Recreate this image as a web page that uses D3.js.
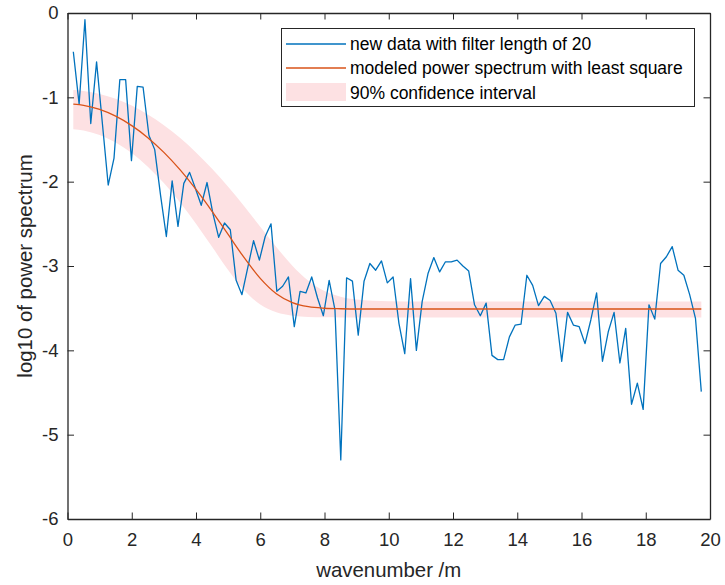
<!DOCTYPE html>
<html><head><meta charset="utf-8">
<script src="https://cdn.jsdelivr.net/npm/d3@7"></script>
<style>body{margin:0;background:#fff}svg{display:block;font-family:"Liberation Sans",Arial,sans-serif}</style>
</head><body><svg id="c" width="725" height="585"></svg>
<script>
// measured data: log10 power spectrum, wavenumber step ~0.181 /m starting at 0.181
const kStep = 0.181;
const powerData = [-0.46,-1.08,-0.08,-1.31,-0.58,-1.31,-2.04,-1.72,-0.79,-0.79,
 -1.75,-0.87,-0.88,-1.45,-1.62,-2.16,-2.65,-1.99,-2.53,-2.02,
 -1.89,-2.08,-2.28,-2.01,-2.375,-2.66,-2.49,-2.57,-3.17,-3.34,
 -3.02,-2.70,-2.93,-2.65,-2.50,-3.30,-3.24,-3.13,-3.72,-3.30,
 -3.32,-3.13,-3.38,-3.59,-3.17,-3.52,-5.30,-3.14,-3.18,-3.82,
 -3.18,-2.97,-3.05,-2.94,-3.20,-3.13,-3.68,-4.04,-3.15,-4.00,
 -3.42,-3.09,-2.90,-3.07,-2.95,-2.95,-2.93,-3.00,-3.06,-3.46,
 -3.59,-3.44,-4.06,-4.11,-4.11,-3.84,-3.70,-3.69,-3.11,-3.23,
 -3.47,-3.36,-3.41,-3.56,-4.13,-3.55,-3.70,-3.72,-3.92,-3.64,
 -3.32,-4.13,-3.78,-3.55,-4.15,-3.74,-4.64,-4.39,-4.70,-3.46,
 -3.63,-2.97,-2.89,-2.77,-3.05,-3.11,-3.34,-3.62,-4.49];
// model curve and confidence band, read at knots
const modelK =     [0.181,0.5,1,1.5,2,2.5,3,3.5,4,4.5,5,5.5,6,6.5,7,7.5,8,8.5,9,9.5,10,11,19.73];
const modelMid =   [-1.081,-1.095,-1.143,-1.223,-1.335,-1.478,-1.653,-1.858,-2.092,-2.351,-2.626,-2.901,-3.147,-3.329,-3.434,-3.483,-3.501,-3.507,-3.51,-3.51,-3.51,-3.51,-3.51];
const bandUpper =  [-0.914,-0.924,-0.959,-1.017,-1.098,-1.203,-1.330,-1.480,-1.653,-1.847,-2.061,-2.292,-2.534,-2.775,-2.996,-3.175,-3.297,-3.365,-3.398,-3.412,-3.417,-3.42,-3.42];
const bandLower =  [-1.377,-1.392,-1.446,-1.536,-1.661,-1.822,-2.017,-2.244,-2.499,-2.773,-3.047,-3.287,-3.456,-3.549,-3.589,-3.604,-3.608,-3.61,-3.61,-3.61,-3.61,-3.61,-3.61];
const xTicks = [0,2,4,6,8,10,12,14,16,18,20];
const yTicks = [-6,-5,-4,-3,-2,-1,0];
const legendLabels = ["new data with filter length of 20","modeled power spectrum with least square","90% confidence interval"];

const svg = d3.select("#c");
const L=67.5, R=710, T=13, B=519;
const x = d3.scaleLinear().domain([0,20]).range([L,R]);
const y = d3.scaleLinear().domain([-6,0]).range([B,T]);
const axisCol = "#262626";
const blue = "#0072BD", red = "#D95319", pink = "#FDE1E3";

const band = modelK.map((k,i)=>({k, lo:bandLower[i], hi:bandUpper[i], m:modelMid[i]}));
svg.append("path").datum(band)
  .attr("d", d3.area().x(d=>x(d.k)).y0(d=>y(d.lo)).y1(d=>y(d.hi)).curve(d3.curveMonotoneX))
  .attr("fill", pink);

const pts = powerData.map((v,i)=>({k:(i+1)*kStep, v}));
svg.append("path").datum(pts)
  .attr("d", d3.line().x(d=>x(d.k)).y(d=>y(d.v)))
  .attr("fill","none").attr("stroke",blue).attr("stroke-width",1.3).attr("stroke-linejoin","round");

svg.append("path").datum(band)
  .attr("d", d3.line().x(d=>x(d.k)).y(d=>y(d.m)).curve(d3.curveMonotoneX))
  .attr("fill","none").attr("stroke",red).attr("stroke-width",1.3);

// axes
const tl = 6.5;
const gx = svg.append("g").attr("transform",`translate(0,${B})`)
  .call(d3.axisBottom(x).tickValues(xTicks).tickSizeInner(-tl).tickSizeOuter(0).tickPadding(10).tickFormat(d3.format("d")));
const gxt = svg.append("g").attr("transform",`translate(0,${T})`)
  .call(d3.axisTop(x).tickValues(xTicks).tickSizeInner(-tl).tickSizeOuter(0).tickFormat(""));
const gy = svg.append("g").attr("transform",`translate(${L},0)`)
  .call(d3.axisLeft(y).tickValues(yTicks).tickSizeInner(-tl).tickSizeOuter(0).tickPadding(9).tickFormat(d=>String(d)));
const gyr = svg.append("g").attr("transform",`translate(${R},0)`)
  .call(d3.axisRight(y).tickValues(yTicks).tickSizeInner(-tl).tickSizeOuter(0).tickFormat(""));
[gx,gxt,gy,gyr].forEach(g=>{
  g.select(".domain").attr("stroke",axisCol).attr("stroke-width",1.3);
  g.selectAll(".tick line").attr("stroke",axisCol).attr("stroke-width",1);
  g.selectAll(".tick text").attr("fill",axisCol).style("font-size","18.5px").style("font-family","'Liberation Sans',Arial,sans-serif");
});
gx.selectAll(".tick text").attr("dy","0.9em");

svg.append("text").attr("x",(L+R)/2).attr("y",577).attr("text-anchor","middle")
  .attr("fill",axisCol).style("font-size","20.4px").text("wavenumber /m");
svg.append("text").attr("transform",`translate(32,${(T+B)/2}) rotate(-90)`).attr("text-anchor","middle")
  .attr("fill",axisCol).style("font-size","20.4px").text("log10 of power spectrum");

// legend
const lg = svg.append("g");
lg.append("rect").attr("x",281.5).attr("y",28.5).attr("width",413).attr("height",78)
  .attr("fill","#fff").attr("stroke",axisCol).attr("stroke-width",1);
const rows=[44,68,93];
lg.append("line").attr("x1",286).attr("x2",346).attr("y1",rows[0]).attr("y2",rows[0]).attr("stroke",blue).attr("stroke-width",1.3);
lg.append("line").attr("x1",286).attr("x2",346).attr("y1",rows[1]).attr("y2",rows[1]).attr("stroke",red).attr("stroke-width",1.3);
lg.append("rect").attr("x",286).attr("y",83).attr("width",60).attr("height",18).attr("fill",pink);
legendLabels.forEach((t,i)=>{
  lg.append("text").attr("x",350).attr("y",rows[i]).attr("dy","0.35em").attr("fill","#000")
    .style("font-size","17.5px").text(t);
});
</script></body></html>
